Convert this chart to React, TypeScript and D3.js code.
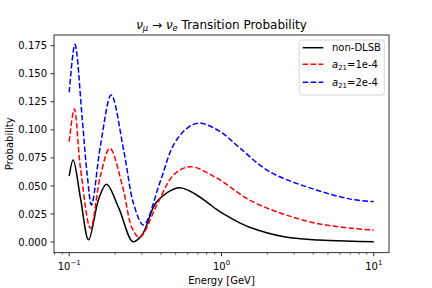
import React from 'react';
import * as d3 from 'd3';

// Energies (GeV) and probabilities
const energyNonDLSB = [0.1, 0.1062, 0.1186, 0.134, 0.1567, 0.1758, 0.212, 0.262, 0.3003, 0.3765, 0.5221, 0.6229, 0.8018, 0.923, 1.031, 1.327, 1.527, 2.53, 4.336, 7.181, 10];
const probNonDLSB = [0.0588, 0.0731, 0.039, 0.002, 0.039, 0.0514, 0.03, 0.0003, 0.0062, 0.036, 0.0484, 0.0452, 0.0356, 0.0292, 0.025, 0.0168, 0.0132, 0.0049, 0.0018, 0.0007, 0.0003];

const energyA1 = [0.1, 0.1079, 0.1186, 0.138, 0.1606, 0.185, 0.2228, 0.2593, 0.29, 0.3765, 0.484, 0.6229, 0.923, 1.527, 2.53, 4.19, 7.181, 10];
const probA1 = [0.0894, 0.1186, 0.0657, 0.0122, 0.0597, 0.0835, 0.0508, 0.0122, 0.004, 0.033, 0.0597, 0.0671, 0.0573, 0.0374, 0.025, 0.0167, 0.0122, 0.0107];

const energyA2 = [0.1, 0.109, 0.1217, 0.1313, 0.1401, 0.1606, 0.1888, 0.2287, 0.266, 0.3076, 0.3959, 0.484, 0.5928, 0.715, 0.9804, 1.327, 2.066, 4.19, 7.181, 10];
const probA2 = [0.1335, 0.1762, 0.11, 0.0597, 0.033, 0.0865, 0.131, 0.0805, 0.033, 0.0152, 0.0538, 0.0865, 0.1013, 0.106, 0.0984, 0.0835, 0.0627, 0.0464, 0.038, 0.036];

const yTickValues = [0, 0.025, 0.05, 0.075, 0.1, 0.125, 0.15, 0.175];
const xMajorValues = [0.1, 1, 10];
const xMajorExponents = ['\u22121', '0', '1'];
const legendLabels = ['non-DLSB', '=1e-4', '=2e-4'];

const W = 432, H = 288;
const L = 54, R = 389, T = 35, B = 252.7;
const FONT = 'DejaVu Sans';

export default function App() {
  const x = d3.scaleLog().domain([Math.pow(10, -1.1), Math.pow(10, 1.1)]).range([L, R]);
  const y = d3.scaleLinear().domain([-0.00954, 0.1845]).range([B, T]);
  const line = d3.line<[number, number]>()
    .x(d => x(d[0]))
    .y(d => y(d[1]))
    .curve(d3.curveCatmullRom.alpha(0.5));

  const series = [
    { e: energyNonDLSB, p: probNonDLSB, color: '#000000', dash: undefined as string | undefined },
    { e: energyA1, p: probA1, color: '#ff0000', dash: '5.55,2.4' },
    { e: energyA2, p: probA2, color: '#0000ff', dash: '5.55,2.4' },
  ];

  const minor: number[] = [];
  for (const dec of [0.01, 0.1, 1, 10]) {
    for (let m = 2; m <= 9; m++) {
      const v = dec * m;
      if (v >= x.domain()[0] && v <= x.domain()[1]) minor.push(v);
    }
  }

  const legendRows = [47.7, 64.3, 82.3];

  return (
    <svg width={W} height={H} style={{ position: 'absolute', left: 0, top: 0, background: '#fff' }} fontFamily={FONT}>
      <rect x={0} y={0} width={W} height={H} fill="#fff" />
      {series.map((s, i) => (
        <path key={i}
          d={line(s.e.map((e, j) => [e, s.p[j]] as [number, number])) || ''}
          fill="none" stroke={s.color} strokeWidth={1.5}
          strokeDasharray={s.dash} />
      ))}
      {/* spines */}
      <rect x={L} y={T} width={R - L} height={B - T} fill="none" stroke="#000" strokeWidth={0.8} />
      {/* y ticks */}
      {yTickValues.map(v => (
        <g key={v}>
          <line x1={L - 3.5} x2={L} y1={y(v)} y2={y(v)} stroke="#000" strokeWidth={0.8} />
          <text x={L - 7} y={y(v)} dy="0.36em" textAnchor="end" fontSize={10} fill="#000">{v.toFixed(3)}</text>
        </g>
      ))}
      {/* x major ticks */}
      {xMajorValues.map((v, i) => (
        <g key={v}>
          <line x1={x(v)} x2={x(v)} y1={B} y2={B + 3.5} stroke="#000" strokeWidth={0.8} />
          <text x={x(v)} y={269.5} textAnchor="middle" fontSize={10} fill="#000">
            <tspan>10</tspan><tspan fontSize={7} dy={-4.5}>{xMajorExponents[i]}</tspan>
          </text>
        </g>
      ))}
      {minor.map(v => (
        <line key={v} x1={x(v)} x2={x(v)} y1={B} y2={B + 2} stroke="#000" strokeWidth={0.6} />
      ))}
      {/* axis labels */}
      <text x={(L + R) / 2} y={284} textAnchor="middle" fontSize={10} fill="#000">Energy [GeV]</text>
      <text transform={`translate(13,${(T + B) / 2}) rotate(-90)`} textAnchor="middle" fontSize={10} fill="#000">Probability</text>
      {/* title */}
      <text x={(L + R) / 2} y={28.5} textAnchor="middle" fontSize={12} fill="#000">
        <tspan fontStyle="italic">ν</tspan>
        <tspan fontStyle="italic" fontSize={8.4} dy={2.5}>μ</tspan>
        <tspan dy={-2.5}> → </tspan>
        <tspan fontStyle="italic">ν</tspan>
        <tspan fontStyle="italic" fontSize={8.4} dy={2.5}>e</tspan>
        <tspan dy={-2.5}> Transition Probability</tspan>
      </text>
      {/* legend */}
      <rect x={299.3} y={40} width={85} height={55} rx={2.5} fill="#fff" fillOpacity={0.8} stroke="#cccccc" strokeWidth={0.8} />
      {series.map((s, i) => (
        <g key={i}>
          <line x1={302.7} x2={323.3} y1={legendRows[i]} y2={legendRows[i]} stroke={s.color} strokeWidth={1.5} strokeDasharray={s.dash} />
          {i === 0 ? (
            <text x={332} y={legendRows[i] + 3.6} fontSize={10} fill="#000">{legendLabels[i]}</text>
          ) : (
            <text x={332} y={legendRows[i] + 3.9} fontSize={10} fill="#000">
              <tspan fontStyle="italic">a</tspan>
              <tspan fontSize={7} dy={2}>21</tspan>
              <tspan dy={-2}>{legendLabels[i]}</tspan>
            </text>
          )}
        </g>
      ))}
    </svg>
  );
}
